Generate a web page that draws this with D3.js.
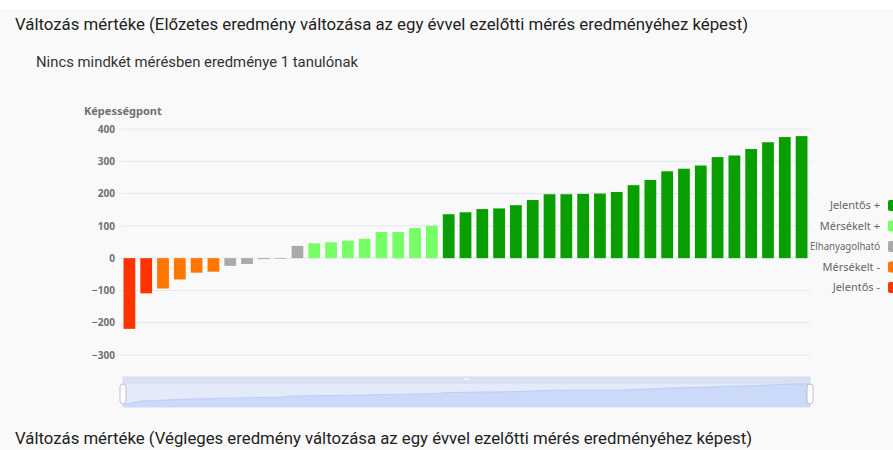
<!DOCTYPE html>
<html><head><meta charset="utf-8">
<script src="https://cdn.jsdelivr.net/npm/d3@7/dist/d3.min.js"></script>
<style>html,body{margin:0;padding:0;background:#fff;overflow:hidden}</style>
</head><body>
<script>
const title1 = "Változás mértéke (Előzetes eredmény változása az egy évvel ezelőtti mérés eredményéhez képest)";
const subtitle = "Nincs mindkét mérésben eredménye 1 tanulónak";
const title2 = "Változás mértéke (Végleges eredmény változása az egy évvel ezelőtti mérés eredményéhez képest)";
const axisName = "Képességpont";

const values = [-219,-109,-94,-66,-45,-42,-24,-18,-3,-2,38,
  46,49,54,60,81,81,93,100,
  136,142,152,154,164,180,198,198,199,200,205,226,242,269,277,287,313,318,338,359,375,378];
const categories = ["Jelentős -","Jelentős -","Mérsékelt -","Mérsékelt -","Mérsékelt -","Mérsékelt -",
  "Elhanyagolható","Elhanyagolható","Elhanyagolható","Elhanyagolható","Elhanyagolható",
  "Mérsékelt +","Mérsékelt +","Mérsékelt +","Mérsékelt +","Mérsékelt +","Mérsékelt +","Mérsékelt +","Mérsékelt +",
  "Jelentős +","Jelentős +","Jelentős +","Jelentős +","Jelentős +","Jelentős +","Jelentős +","Jelentős +","Jelentős +","Jelentős +","Jelentős +",
  "Jelentős +","Jelentős +","Jelentős +","Jelentős +","Jelentős +","Jelentős +","Jelentős +","Jelentős +","Jelentős +","Jelentős +","Jelentős +"];
const legendNames = ["Jelentős +","Mérsékelt +","Elhanyagolható","Mérsékelt -","Jelentős -"];
const legendColors = ["#0a9f00","#77ff66","#aaaaaa","#ff7700","#ff3300"];
const yTicks = [400,300,200,100,0,-100,-200,-300];

const W = 893, H = 450;
const svg = d3.select("body").append("svg").attr("width", W).attr("height", H);
svg.append("rect").attr("x",0).attr("y",9).attr("width",W).attr("height",H-9).attr("fill","#f9f9f9");

const titleFont = "Roboto, 'Noto Sans', sans-serif";
const chartFont = "'Noto Sans', 'Open Sans', sans-serif";

svg.append("text").attr("x",15).attr("y",30).attr("font-family",titleFont).attr("font-size",16)
  .attr("fill","#222").attr("textLength",733).attr("lengthAdjust","spacingAndGlyphs").text(title1);
svg.append("text").attr("x",36).attr("y",67).attr("font-family",titleFont).attr("font-size",14)
  .attr("fill","#333").attr("textLength",322).attr("lengthAdjust","spacingAndGlyphs").text(subtitle);
svg.append("text").attr("x",15).attr("y",444).attr("font-family",titleFont).attr("font-size",16)
  .attr("fill","#222").attr("textLength",737).attr("lengthAdjust","spacingAndGlyphs").text(title2);

const x = d3.scaleBand().domain(d3.range(values.length)).range([121,810]).paddingInner(0.3).paddingOuter(0.15);
const y = d3.scaleLinear().domain([-300,400]).range([355,129]);
const color = d3.scaleOrdinal().domain(legendNames).range(legendColors);

// gridlines
svg.append("g").selectAll("line").data(yTicks).join("line")
  .attr("x1",121).attr("x2",810).attr("y1",d=>y(d)).attr("y2",d=>y(d))
  .attr("stroke","#e3e8f2").attr("stroke-width",1);

// y axis labels
const yAxis = d3.axisLeft(y).tickValues(yTicks).tickSize(0).tickPadding(6);
const ga = svg.append("g").attr("transform","translate(121,0)").call(yAxis);
ga.select(".domain").remove();
ga.selectAll("text").attr("font-family",chartFont).attr("font-size",10).attr("font-weight","bold").attr("fill","#6e7079");

svg.append("text").attr("x",84).attr("y",115).attr("font-family",chartFont).attr("font-size",11)
  .attr("font-weight","bold").attr("fill","#6e7079").text(axisName);

// bars
svg.append("g").selectAll("rect").data(values).join("rect")
  .attr("x",(d,i)=>x(i)).attr("width",x.bandwidth())
  .attr("y",d=>y(Math.max(0,d))).attr("height",d=>Math.abs(y(d)-y(0)))
  .attr("fill",(d,i)=>color(categories[i]));

// legend
const lg = svg.append("g");
legendNames.forEach((n,i)=>{
  const cy = 205 + i*20.5;
  const t = lg.append("text").attr("x",880).attr("y",cy+4).attr("text-anchor","end")
    .attr("font-family",chartFont).attr("font-size",11).attr("fill","#666").text(n);
  if (t.node().getComputedTextLength() > 70) t.attr("textLength",70).attr("lengthAdjust","spacingAndGlyphs");
  lg.append("rect").attr("x",888).attr("y",cy-5).attr("width",14).attr("height",11).attr("rx",2)
    .attr("fill",legendColors[i]);
});

// data zoom slider
const sx0 = 123, sx1 = 810, sy0 = 377, sy1 = 407;
svg.append("rect").attr("x",sx0).attr("y",sy0).attr("width",sx1-sx0).attr("height",sy1-sy0)
  .attr("fill","#e4eafa").attr("stroke","#d8def0");
svg.append("rect").attr("x",sx0).attr("y",sy0).attr("width",sx1-sx0).attr("height",7)
  .attr("fill","#d9e0f2");
const xs = d3.scaleLinear().domain([0,values.length-1]).range([sx0,sx1]);
const ys = d3.scaleLinear().domain(d3.extent(values)).range([sy1-2, 384]);
svg.append("path").datum(values)
  .attr("d", d3.area().x((d,i)=>xs(i)).y0(sy1).y1(d=>ys(d)))
  .attr("fill","#cbdaf8");
svg.append("path").datum(values)
  .attr("d", d3.line().x((d,i)=>xs(i)).y(d=>ys(d)))
  .attr("fill","none").attr("stroke","#bccff5").attr("stroke-width",1);
svg.append("rect").attr("x",(sx0+sx1)/2-3).attr("y",sy0+1).attr("width",6).attr("height",2).attr("fill","#eef2fb");
[sx0, sx1].forEach(hx=>{
  svg.append("rect").attr("x",hx-3).attr("y",384).attr("width",6).attr("height",20).attr("rx",3)
    .attr("fill","#fff").attr("stroke","#aab3c5").attr("stroke-width",0.8);
});
</script>
</body></html>
